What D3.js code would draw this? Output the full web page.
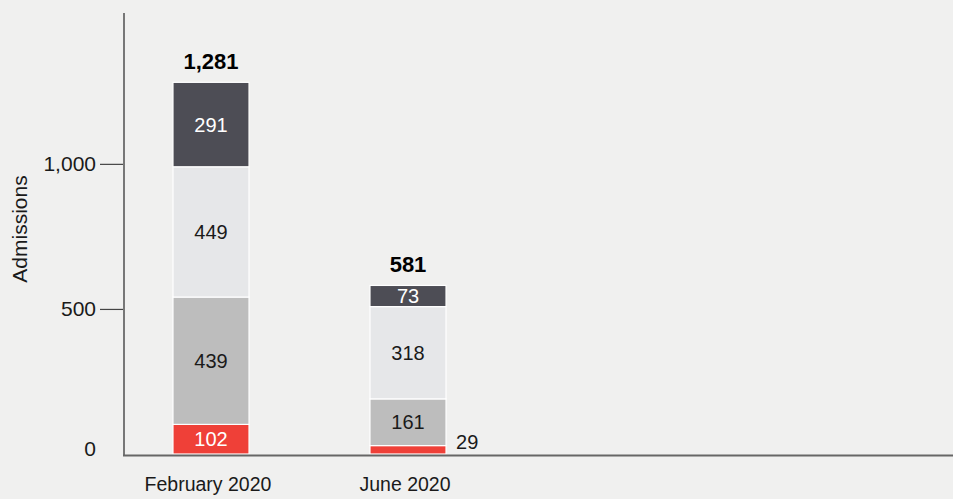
<!DOCTYPE html>
<html>
<head>
<meta charset="utf-8">
<script src="https://cdn.jsdelivr.net/npm/d3@7"></script>
<style>
  body { margin: 0; background: #f0f0ef; }
  svg { display: block; font-family: "Liberation Sans", Arial, sans-serif; }
</style>
</head>
<body>
<div id="chart"></div>
<script>
// data
const categories = ['February 2020', 'June 2020'];
const seriesNames = ['s1', 's2', 's3', 's4'];   // bottom to top
const s1 = [102, 29];
const s2 = [439, 161];
const s3 = [449, 318];
const s4 = [291, 73];
const totals = [1281, 581];
const yTicks = [0, 500, 1000];

const colors = ['#ef4038', '#bdbdbd', '#e6e7e9', '#4d4d55'];
const labelColors = ['#fff', '#1a1a1a', '#1a1a1a', '#fff'];

const width = 953, height = 499;
const svg = d3.select('#chart').append('svg')
  .attr('width', width).attr('height', height);

const rows = categories.map((c, i) => ({ cat: c, s1: s1[i], s2: s2[i], s3: s3[i], s4: s4[i], total: totals[i] }));
const stack = d3.stack().keys(seriesNames)(rows);

const x = d3.scaleBand()
  .domain(categories)
  .range([112.5, 506.5])
  .paddingInner(0.614)
  .paddingOuter(0.307);

const y = d3.scaleLinear()
  .domain([0, 1520])
  .range([454, 13]);

// y axis
const yAxis = svg.append('g')
  .attr('transform', 'translate(124,0)')
  .call(d3.axisLeft(y).tickValues(yTicks).tickFormat(d3.format(',')).tickSize(24).tickPadding(4));
yAxis.select('.domain').remove();
yAxis.selectAll('.tick line').attr('stroke', '#444').attr('stroke-width', 1.2)
  .filter(d => d === 0).remove();
yAxis.selectAll('.tick text')
  .attr('fill', '#1a1a1a').style('font-size', '21px')
  .attr('dy', d => d === 0 ? '0.05em' : '0.32em');

svg.append('line')
  .attr('x1', 124).attr('x2', 124)
  .attr('y1', y(1520)).attr('y2', 456)
  .attr('stroke', '#777').attr('stroke-width', 2);

svg.append('text')
  .attr('transform', 'translate(27,' + 229 + ') rotate(-90)')
  .attr('text-anchor', 'middle')
  .style('font-size', '21px')
  .attr('fill', '#1a1a1a')
  .text('Admissions');

// bars
const layers = svg.append('g').selectAll('g')
  .data(stack)
  .enter().append('g');

layers.selectAll('rect')
  .data((d, i) => d.map(p => ({ p, i })))
  .enter().append('rect')
  .attr('x', d => x(d.p.data.cat))
  .attr('width', x.bandwidth())
  .attr('y', d => y(d.p[1]))
  .attr('height', d => y(d.p[0]) - y(d.p[1]))
  .attr('fill', d => colors[d.i])
  .attr('stroke', '#fff')
  .attr('stroke-width', 1.2);

// segment labels, the thin ones go to the right of the bar
const isSmall = d => y(d.p[0]) - y(d.p[1]) < 14;
layers.selectAll('text')
  .data((d, i) => d.map(p => ({ p, i })))
  .enter().append('text')
  .attr('x', d => isSmall(d) ? x(d.p.data.cat) + x.bandwidth() + 10 : x(d.p.data.cat) + x.bandwidth() / 2)
  .attr('y', d => isSmall(d) ? y(d.p[1]) - 4 : (y(d.p[0]) + y(d.p[1])) / 2)
  .attr('dy', '0.35em')
  .attr('text-anchor', d => isSmall(d) ? 'start' : 'middle')
  .attr('fill', d => isSmall(d) ? '#1a1a1a' : labelColors[d.i])
  .style('font-size', '20px')
  .text(d => d.p[1] - d.p[0]);

// totals
svg.append('g').selectAll('text')
  .data(rows)
  .enter().append('text')
  .attr('x', d => x(d.cat) + x.bandwidth() / 2)
  .attr('y', d => y(d.total) - 13)
  .attr('text-anchor', 'middle')
  .attr('fill', '#000')
  .style('font-size', '22px')
  .style('font-weight', 'bold')
  .text(d => d3.format(',')(d.total));

// baseline
svg.append('line')
  .attr('x1', 123).attr('x2', width)
  .attr('y1', 455.5).attr('y2', 455.5)
  .attr('stroke', '#666').attr('stroke-width', 2);

// category labels
svg.append('g').selectAll('text')
  .data(categories)
  .enter().append('text')
  .attr('x', d => x(d) + x.bandwidth() / 2 - 3)
  .attr('y', 491)
  .attr('text-anchor', 'middle')
  .attr('fill', '#1a1a1a')
  .style('font-size', '19.5px')
  .text(d => d);
</script>
</body>
</html>
